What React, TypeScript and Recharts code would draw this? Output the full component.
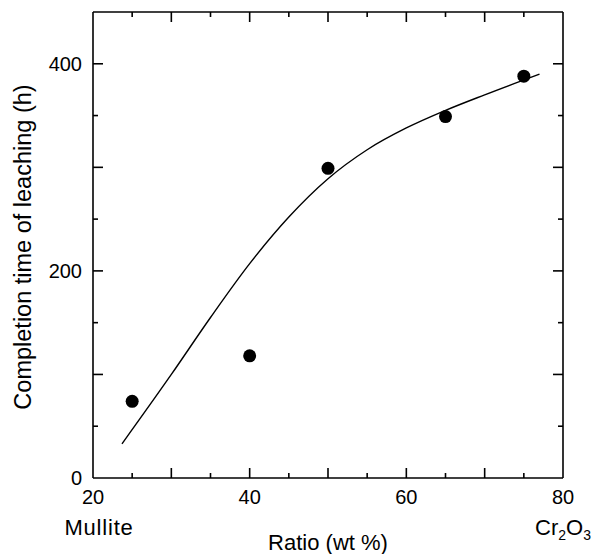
import React from 'react';
import { ComposedChart, Line, Scatter, XAxis, YAxis, Label } from 'recharts';

// measured points
const measured = [
  { x: 25, y: 74 },
  { x: 40, y: 118 },
  { x: 50, y: 299 },
  { x: 65, y: 349 },
  { x: 75, y: 388 },
];

// fitted curve
const curve = [
  { x: 23.7, y: 33 },
  { x: 30, y: 100 },
  { x: 35, y: 155 },
  { x: 40, y: 207 },
  { x: 45, y: 252 },
  { x: 50, y: 289 },
  { x: 55, y: 317 },
  { x: 60, y: 338 },
  { x: 65, y: 355 },
  { x: 70, y: 370 },
  { x: 77, y: 390 },
];

const xTicks = [20, 25, 30, 35, 40, 45, 50, 55, 60, 65, 70, 75, 80];
const xLabels = [20, 40, 60, 80];
const yTicks = [0, 50, 100, 150, 200, 250, 300, 350, 400, 450];
const yLabels = [0, 200, 400];

const FONT = '"Liberation Sans", Arial, Helvetica, sans-serif';
const MAJOR = 10;
const MINOR = 5;

const BottomTick = (props: any) => {
  const { x, y, payload } = props;
  const v = payload.value;
  const len = v % 10 === 0 ? MAJOR : MINOR;
  return (
    <g>
      {v !== 20 && v !== 80 && <line x1={x} y1={y} x2={x} y2={y - len} stroke="#000" strokeWidth={1.6} />}
      {xLabels.includes(v) && (
        <text x={x} y={y + 26} textAnchor="middle" fontSize={20} fontFamily={FONT} fill="#000">{v}</text>
      )}
      {v === 20 && (
        <text x={x + 6} y={y + 57} textAnchor="middle" fontSize={22} fontFamily={FONT} letterSpacing={0.8} fill="#000">Mullite</text>
      )}
      {v === 80 && (
        <text x={x} y={y + 57} textAnchor="middle" fontSize={22} fontFamily={FONT} fill="#000">
          Cr<tspan fontSize={14} dy={5}>2</tspan><tspan dy={-5}>O</tspan><tspan fontSize={14} dy={5}>3</tspan>
        </text>
      )}
    </g>
  );
};

const TopTick = (props: any) => {
  const { x, y, payload } = props;
  const v = payload.value;
  if (v === 20 || v === 80) return <g />;
  const len = v % 10 === 0 ? MAJOR : MINOR;
  return <line x1={x} y1={y} x2={x} y2={y + len} stroke="#000" strokeWidth={1.6} />;
};

const LeftTick = (props: any) => {
  const { x, y, payload } = props;
  const v = payload.value;
  const len = v % 100 === 0 ? MAJOR : MINOR;
  return (
    <g>
      {v !== 0 && v !== 450 && <line x1={x} y1={y} x2={x + len} y2={y} stroke="#000" strokeWidth={1.6} />}
      {yLabels.includes(v) && (
        <text x={x - 11} y={y + 7} textAnchor="end" fontSize={20} fontFamily={FONT} fill="#000">{v}</text>
      )}
    </g>
  );
};

const RightTick = (props: any) => {
  const { x, y, payload } = props;
  const v = payload.value;
  if (v === 0 || v === 450) return <g />;
  const len = v % 100 === 0 ? MAJOR : MINOR;
  return <line x1={x} y1={y} x2={x - len} y2={y} stroke="#000" strokeWidth={1.6} />;
};

export default function App() {
  return (
    <div style={{ position: 'absolute', left: 0, top: 0, background: '#fff' }}>
      <ComposedChart width={594} height={554} margin={{ top: 11, right: 30, bottom: 2, left: 0 }}>
        <XAxis
          xAxisId="b"
          dataKey="x"
          type="number"
          domain={[20, 80]}
          ticks={xTicks}
          interval={0}
          height={74}
          tickSize={0}
          tickMargin={0}
          tickLine={false}
          tick={BottomTick}
          axisLine={{ stroke: '#000', strokeWidth: 1.6 }}
          allowDataOverflow
        >
          <Label
            content={(p: any) => {
              const vb = p.viewBox;
              return (
                <text x={vb.x + vb.width / 2} y={vb.y + vb.height - 2} textAnchor="middle" fontSize={22} fontFamily={FONT} fill="#000">
                  Ratio (wt %)
                </text>
              );
            }}
          />
        </XAxis>
        <XAxis
          xAxisId="t"
          orientation="top"
          dataKey="x"
          type="number"
          domain={[20, 80]}
          ticks={xTicks}
          interval={0}
          height={1}
          tickSize={0}
          tickMargin={0}
          tickLine={false}
          tick={TopTick}
          axisLine={{ stroke: '#000', strokeWidth: 1.6 }}
          allowDataOverflow
        />
        <YAxis
          yAxisId="l"
          type="number"
          domain={[0, 450]}
          ticks={yTicks}
          interval={0}
          width={93}
          tickSize={0}
          tickMargin={0}
          tickLine={false}
          tick={LeftTick}
          axisLine={{ stroke: '#000', strokeWidth: 1.6 }}
          allowDataOverflow
        >
          <Label
            content={(p: any) => {
              const vb = p.viewBox;
              const cx = 31;
              const cy = vb.y + vb.height / 2 + 2;
              return (
                <text x={cx} y={cy} transform={`rotate(-90, ${cx}, ${cy})`} textAnchor="middle" fontSize={23.5} fontFamily={FONT} fill="#000">
                  Completion time of leaching (h)
                </text>
              );
            }}
          />
        </YAxis>
        <YAxis
          yAxisId="r"
          orientation="right"
          type="number"
          domain={[0, 450]}
          ticks={yTicks}
          interval={0}
          width={1}
          tickSize={0}
          tickMargin={0}
          tickLine={false}
          tick={RightTick}
          axisLine={{ stroke: '#000', strokeWidth: 1.6 }}
          allowDataOverflow
        />
        <Line
          xAxisId="b"
          yAxisId="l"
          data={curve}
          dataKey="y"
          type="monotone"
          stroke="#000"
          strokeWidth={1.4}
          dot={false}
          activeDot={false}
          isAnimationActive={false}
        />
        <Scatter
          xAxisId="b"
          yAxisId="l"
          data={measured}
          dataKey="y"
          fill="#000"
          shape={(p: any) => <circle cx={p.cx} cy={p.cy} r={6.5} fill="#000" />}
          isAnimationActive={false}
        />
      </ComposedChart>
    </div>
  );
}
